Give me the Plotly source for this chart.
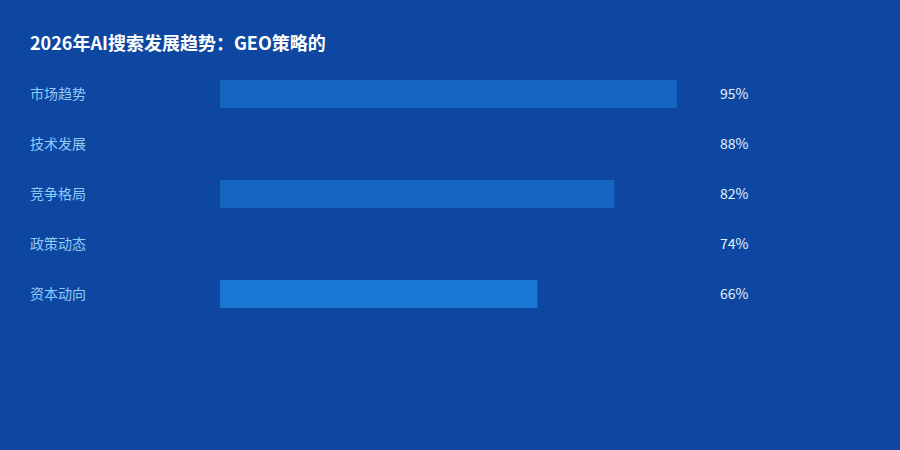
import plotly.graph_objects as go

title = "2026年AI搜索发展趋势：GEO策略的"
categories = ["市场趋势", "技术发展", "竞争格局", "政策动态", "资本动向"]
values = [95, 88, 82, 74, 66]
bar_colors = ["#1565C0", "#0D47A1", "#1565C0", "#0D47A1", "#1976D2"]

bg = "#0D47A1"
font = "Noto Sans CJK SC"

fig = go.Figure(go.Bar(
    x=values,
    y=categories,
    orientation="h",
    width=0.56,
    marker=dict(color=bar_colors, line=dict(width=0)),
    hoverinfo="skip",
))

# category names on the left, values on the right
for cat, val in zip(categories, values):
    fig.add_annotation(x=-190 / 481, y=cat, xref="paper", yref="y", text=cat,
                       showarrow=False, xanchor="left", xshift=-2, yshift=1,
                       font=dict(family=font, size=14, color="#90CAF9"))
    fig.add_annotation(x=500 / 481, y=cat, xref="paper", yref="y", text=f"{val}%",
                       showarrow=False, xanchor="left", xshift=-2, yshift=1,
                       font=dict(family=font, size=14, color="#E3F2FD"))

fig.update_layout(
    width=900, height=450,
    paper_bgcolor=bg, plot_bgcolor=bg,
    margin=dict(l=220, r=199, t=69, b=131),
    showlegend=False,
    title=dict(text=f"<b>{title}</b>", x=30 / 900, xanchor="left", y=1 - 44 / 450, yanchor="middle",
               font=dict(family=font, size=18, color="#FFFFFF")),
    xaxis=dict(range=[0, 100], visible=False, fixedrange=True),
    yaxis=dict(categoryorder="array", categoryarray=categories, autorange="reversed",
               range=[4.5, -0.5], visible=False, fixedrange=True),
)

fig.write_html("out.html", config={"displayModeBar": False},
               post_script="document.body.style.margin='0';")
